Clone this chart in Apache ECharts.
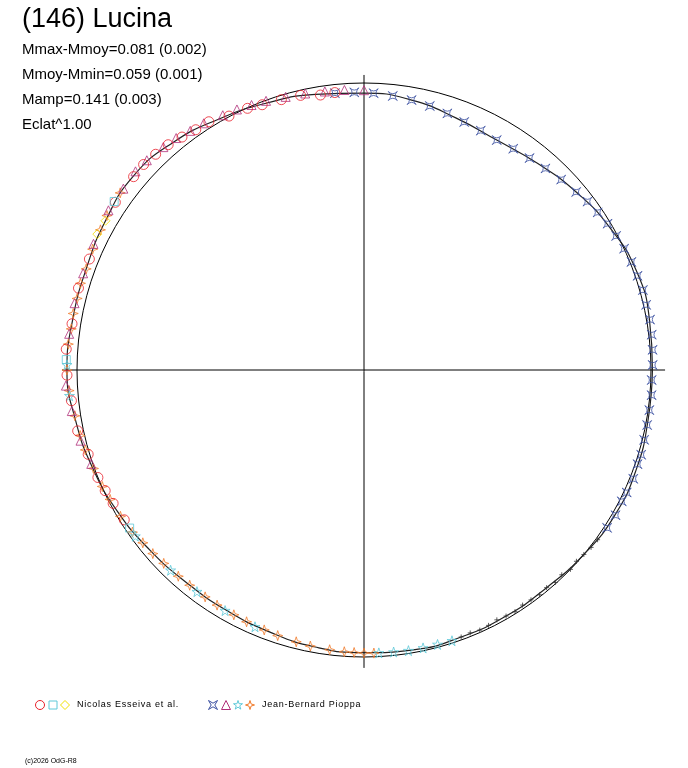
<!DOCTYPE html>
<html><head><meta charset="utf-8">
<script src="https://cdn.jsdelivr.net/npm/echarts@6/dist/echarts.min.js"></script>
<style>html,body{margin:0;padding:0;background:#fff}#c{width:688px;height:768px}</style>
</head><body><div id="c"></div>
<script>
// [angle(deg, counter-clockwise from right), relative radius]
const fitCurve = [[0,1.005],[10,1.01],[20,1.01],[30,0.99],[40,0.965],[50,0.94],[60,0.925],[70,0.935],[80,0.955],[90,0.965],[100,0.975],[110,0.99],[120,1.01],[130,1.035],[140,1.05],[150,1.04],[160,1.03],[170,1.03],[180,1.035],[190,1.02],[200,1.005],[210,0.99],[220,0.975],[230,0.965],[240,0.965],[250,0.97],[260,0.98],[270,0.985],[280,0.99],[290,0.99],[300,0.99],[310,0.99],[320,1.0],[330,1.01],[340,1.01],[350,1.005],[360,1.005]];
const esseivaCircle = [[96,0.972],[99,0.97],[103,0.982],[107,0.985],[111,0.99],[114,0.998],[118,1.002],[122,1.02],[125,1.022],[128,1.03],[131,1.04],[134,1.045],[137,1.05],[140,1.048],[146,1.045],[158,1.032],[164,1.035],[171,1.03],[176,1.04],[181,1.035],[186,1.025],[192,1.02],[197,1.005],[202,1.0],[205,0.995],[208,0.99],[212,0.985]];
const esseivaSquare = [[146,1.05],[178,1.038],[214,0.985]];
const esseivaDiamond = [[150,1.04],[153,1.043]];
const pioppaAstroid = [[327,1.01],[330,1.012],[333,1.008],[335,1.01],[338,1.012],[341,1.008],[343,1.01],[346,1.006],[349,1.005],[352,1.004],[355,1.006],[358,1.003],[1,1.006],[4,1.008],[7,1.01],[10,1.012],[13,1.009],[16,1.011],[19,1.008],[22,1.005],[25,1.0],[28,0.995],[31,0.99],[34,0.982],[37,0.975],[40,0.965],[44,0.955],[48,0.945],[52,0.937],[56,0.93],[60,0.925],[64,0.928],[68,0.932],[72,0.94],[76,0.948],[80,0.955],[84,0.96],[88,0.965],[92,0.968],[96,0.97]];
const pioppaTriangle = [[90,0.975],[94,0.978],[98,0.98],[102,0.985],[106,0.99],[110,0.998],[113,1.003],[116,1.01],[119,1.015],[123,1.025],[126,1.03],[129,1.04],[132,1.045],[136,1.052],[139,1.055],[143,1.05],[148,1.05],[155,1.04],[161,1.035],[167,1.035],[173,1.035],[183,1.04],[188,1.028],[194,1.018],[199,1.005]];
const pioppaStar5 = [[179,1.035],[185,1.03],[216,0.985],[226,0.97],[233,0.967],[240,0.968],[247,0.972],[273,0.987],[276,0.988],[279,0.99],[282,0.99],[285,0.99],[288,0.992]];
const pioppaStar4 = [[144,1.05],[149,1.045],[152,1.04],[156,1.035],[160,1.03],[163,1.033],[166,1.03],[169,1.032],[172,1.03],[175,1.034],[180,1.035],[184,1.03],[189,1.02],[193,1.015],[196,1.01],[200,1.003],[204,0.998],[207,0.993],[211,0.99],[215,0.985],[218,0.978],[221,0.975],[224,0.97],[228,0.967],[231,0.965],[235,0.965],[238,0.966],[242,0.966],[245,0.968],[249,0.97],[252,0.973],[256,0.976],[259,0.98],[263,0.982],[266,0.984],[268,0.985],[270,0.986],[272,0.987]];
const blackDots = [[290,0.99],[292,0.988],[294,0.992],[296,0.99],[298,0.986],[300,0.99],[302,0.993],[304,0.988],[306,0.99],[308,0.994],[310,0.99],[312,0.996],[314,0.992],[316,1.0],[318,0.996],[320,1.0],[322,1.004],[324,1.006]];
const legendItems = ['Nicolas Esseiva et al.','Jean-Bernard Pioppa'];

const ASTROID='path://M0,0 Q5,5 10,0 Q5,5 10,10 Q5,5 0,10 Q5,5 0,0Z';
const STAR4='path://M5,0 L6.2,3.8 L10,5 L6.2,6.2 L5,10 L3.8,6.2 L0,5 L3.8,3.8Z';
const STAR5='path://M5,0 L6.2,3.6 L10,3.6 L6.9,5.9 L8.1,9.6 L5,7.3 L1.9,9.6 L3.1,5.9 L0,3.6 L3.8,3.6Z';
const DIAM='path://M5,0 L10,5 L5,10 L0,5Z';
const P_AST=[[0,0],[5,3],[10,0],[7,5],[10,10],[5,7],[0,10],[3,5]];
const P_S4=[[5,0],[6.2,3.8],[10,5],[6.2,6.2],[5,10],[3.8,6.2],[0,5],[3.8,3.8]];
const P_S5=[[5,0],[6.2,3.6],[10,3.6],[6.9,5.9],[8.1,9.6],[5,7.3],[1.9,9.6],[3.1,5.9],[0,3.6],[3.8,3.6]];
const P_DI=[[5,0],[10,5],[5,10],[0,5]];
const P_TR=[[5,0],[10,10],[0,10]];
const R=287, MAXR=1.1;
function sc(name,data,symbol,color,size){
  return {type:'scatter',name,coordinateSystem:'polar',data:data.map(d=>[d[1],d[0]]),symbol,symbolSize:size,
    itemStyle:{color:'transparent',borderColor:color,borderWidth:1},silent:true,z:3};
}
const circ=[];for(let a=0;a<=360;a+=3)circ.push([1,a]);
const chart=echarts.init(document.getElementById('c'));
const small={fontSize:9,fontFamily:'Liberation Sans',fill:'#000'};
function sym(x,y,p,c){return {type:'polygon',shape:{points:p.map(q=>[x-4.5+q[0]*0.9,y-4.5+q[1]*0.9])},style:{fill:'none',stroke:c,lineWidth:1}};}
chart.setOption({
  animation:false,
  polar:{center:[364,370],radius:R*MAXR},
  angleAxis:{type:'value',min:0,max:360,startAngle:0,clockwise:false,show:false},
  radiusAxis:{type:'value',min:0,max:MAXR,show:false},
  series:[
    {type:'line',coordinateSystem:'polar',data:[[1.052,180],[1.049,0]],symbol:'none',lineStyle:{color:'#000',width:1},z:1},
    {type:'line',coordinateSystem:'polar',data:[[1.028,90],[1.038,270]],symbol:'none',lineStyle:{color:'#000',width:1},z:1},
    {type:'line',coordinateSystem:'polar',data:circ,symbol:'none',lineStyle:{color:'#000',width:1},z:1},
    {type:'line',coordinateSystem:'polar',data:fitCurve.map(d=>[d[1],d[0]]),smooth:true,symbol:'none',lineStyle:{color:'#222',width:1.2},z:2},
    sc('bd',blackDots,'path://M0,5 L10,5 M5,0 L5,10','#333',5),
    sc('b',pioppaAstroid,ASTROID,'#3a4fa0',9),
    sc('o',pioppaStar4,STAR4,'#f07a2a',10),
    sc('cs',pioppaStar5,STAR5,'#5ec8d8',10),
    sc('m',pioppaTriangle,'triangle','#b0307a',9),
    sc('r',esseivaCircle,'circle','#e8202a',10),
    sc('sq',esseivaSquare,'rect','#5ec8d8',8),
    sc('y',esseivaDiamond,DIAM,'#f0e000',9)
  ],
  graphic:[
    {type:'text',x:22,y:6,style:{text:'(146) Lucina',fontSize:27,fontFamily:'Liberation Sans',fill:'#000'}},
    {type:'text',x:22,y:42,style:{text:'Mmax-Mmoy=0.081 (0.002)',fontSize:15,fontFamily:'Liberation Sans',fill:'#000'}},
    {type:'text',x:22,y:67,style:{text:'Mmoy-Mmin=0.059 (0.001)',fontSize:15,fontFamily:'Liberation Sans',fill:'#000'}},
    {type:'text',x:22,y:92,style:{text:'Mamp=0.141 (0.003)',fontSize:15,fontFamily:'Liberation Sans',fill:'#000'}},
    {type:'text',x:22,y:117,style:{text:'Eclat^1.00',fontSize:15,fontFamily:'Liberation Sans',fill:'#000'}},
    {type:'circle',shape:{cx:40,cy:705,r:4.5},style:{fill:'none',stroke:'#e8202a'}},
    {type:'rect',shape:{x:49,y:701,width:8,height:8},style:{fill:'none',stroke:'#5ec8d8'}},
    sym(65,705,P_DI,'#f0e000'),
    {type:'text',x:77,y:700,style:Object.assign({text:legendItems[0].split('').join('\u200A')},small)},
    sym(213,705,P_AST,'#3a4fa0'),
    sym(226,705,P_TR,'#b0307a'),
    sym(238,705,P_S5,'#5ec8d8'),
    sym(250,705,P_S4,'#f07a2a'),
    {type:'text',x:262,y:700,style:Object.assign({text:legendItems[1].split('').join('\u200A')},small)},
    {type:'text',x:25,y:758,style:{text:'(c)2026 OdG-R8',fontSize:7,fontFamily:'Liberation Sans',fill:'#000'}}
  ]
});
</script></body></html>
